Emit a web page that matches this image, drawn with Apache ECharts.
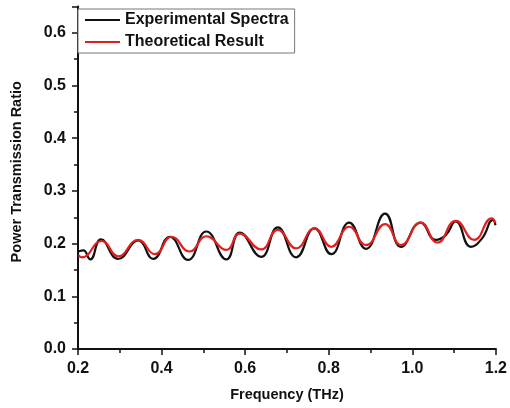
<!DOCTYPE html>
<html>
<head>
<meta charset="utf-8">
<script src="https://cdn.jsdelivr.net/npm/echarts@6/dist/echarts.min.js"></script>
<style>
  html, body { margin: 0; padding: 0; background: #fff; }
  #main { width: 510px; height: 408px; }
</style>
</head>
<body>
<div id="main"></div>
<script>
// experimental spectra (black)
var freqExp = [0.201, 0.213, 0.229, 0.255, 0.296, 0.344, 0.380, 0.420, 0.463, 0.507, 0.555, 0.587, 0.638, 0.678, 0.722, 0.766, 0.806, 0.849, 0.889, 0.935, 0.973, 1.020, 1.056, 1.080, 1.104, 1.140, 1.167, 1.193, 1.199];
var ratioExp = [0.185, 0.187, 0.170, 0.208, 0.171, 0.206, 0.171, 0.213, 0.169, 0.223, 0.170, 0.221, 0.175, 0.231, 0.174, 0.229, 0.180, 0.240, 0.190, 0.257, 0.194, 0.240, 0.207, 0.216, 0.242, 0.194, 0.210, 0.245, 0.235];

// theoretical result (red)
var freqTheo = [0.201, 0.209, 0.257, 0.296, 0.344, 0.384, 0.424, 0.467, 0.507, 0.555, 0.587, 0.638, 0.678, 0.722, 0.766, 0.806, 0.849, 0.889, 0.935, 0.973, 1.020, 1.060, 1.104, 1.148, 1.190, 1.199];
var ratioTheo = [0.178, 0.174, 0.205, 0.176, 0.207, 0.180, 0.213, 0.185, 0.214, 0.188, 0.219, 0.189, 0.226, 0.191, 0.229, 0.194, 0.232, 0.197, 0.237, 0.197, 0.240, 0.202, 0.243, 0.207, 0.248, 0.239];

var seriesNames = ['Experimental Spectra', 'Theoretical Result'];

function pairs(xs, ys) {
  var out = [];
  for (let i = 0; i < xs.length; i++) {
    out.push([xs[i], ys[i]]);
  }
  return out;
}

var chart = echarts.init(document.getElementById('main'));

var axisFont = {
  fontFamily: 'Liberation Sans, Arial, sans-serif',
  fontWeight: 'bold',
  color: '#111'
};

var option = {
  backgroundColor: '#fff',
  animation: false,
  color: ['#111111', '#e0201e'],
  grid: {
    left: 78,
    right: 13,
    top: 6.5,
    bottom: 59
  },
  legend: {
    orient: 'vertical',
    left: 78,
    top: 9,
    padding: [2, 6, 2, 7],
    itemGap: 4,
    itemWidth: 35,
    itemHeight: 2,
    icon: 'rect',
    backgroundColor: '#fff',
    borderColor: '#777',
    borderWidth: 1,
    data: seriesNames,
    textStyle: {
      fontFamily: 'Liberation Sans, Arial, sans-serif',
      fontWeight: 'bold',
      fontSize: 16,
      color: '#111',
      lineHeight: 18
    }
  },
  xAxis: {
    type: 'value',
    min: 0.2,
    max: 1.2,
    interval: 0.2,
    name: 'Frequency (THz)',
    nameLocation: 'middle',
    nameGap: 38,
    nameTextStyle: Object.assign({ fontSize: 14.5 }, axisFont),
    axisLine: { show: true, lineStyle: { color: '#111', width: 2 } },
    axisTick: { show: true, length: 6, lineStyle: { color: '#111', width: 1.5 } },
    minorTick: { show: true, splitNumber: 2, length: 4, lineStyle: { color: '#111', width: 1.5 } },
    splitLine: { show: false },
    axisLabel: Object.assign({
      fontSize: 16,
      margin: 12,
      formatter: function (v) { return v.toFixed(1); }
    }, axisFont)
  },
  yAxis: {
    type: 'value',
    min: 0,
    max: 0.65,
    interval: 0.1,
    name: 'Power Transmission Ratio',
    nameLocation: 'middle',
    nameGap: 54,
    nameTextStyle: Object.assign({ fontSize: 14.5, padding: [0, 0, 0, 12] }, axisFont),
    axisLine: { show: true, lineStyle: { color: '#111', width: 2 } },
    axisTick: { show: true, length: 6, lineStyle: { color: '#111', width: 1.5 } },
    minorTick: { show: true, splitNumber: 2, length: 4, lineStyle: { color: '#111', width: 1.5 } },
    splitLine: { show: false },
    axisLabel: Object.assign({
      fontSize: 16,
      margin: 12,
      showMaxLabel: false,
      formatter: function (v) { return v.toFixed(1); }
    }, axisFont)
  },
  series: [{
    name: seriesNames[0],
    type: 'line',
    smooth: 0.5,
    symbol: 'none',
    lineStyle: { width: 2.2 },
    data: pairs(freqExp, ratioExp)
  }, {
    name: seriesNames[1],
    type: 'line',
    smooth: 0.5,
    symbol: 'none',
    lineStyle: { width: 2.2 },
    data: pairs(freqTheo, ratioTheo)
  }]
};

chart.setOption(option);
</script>
</body>
</html>
